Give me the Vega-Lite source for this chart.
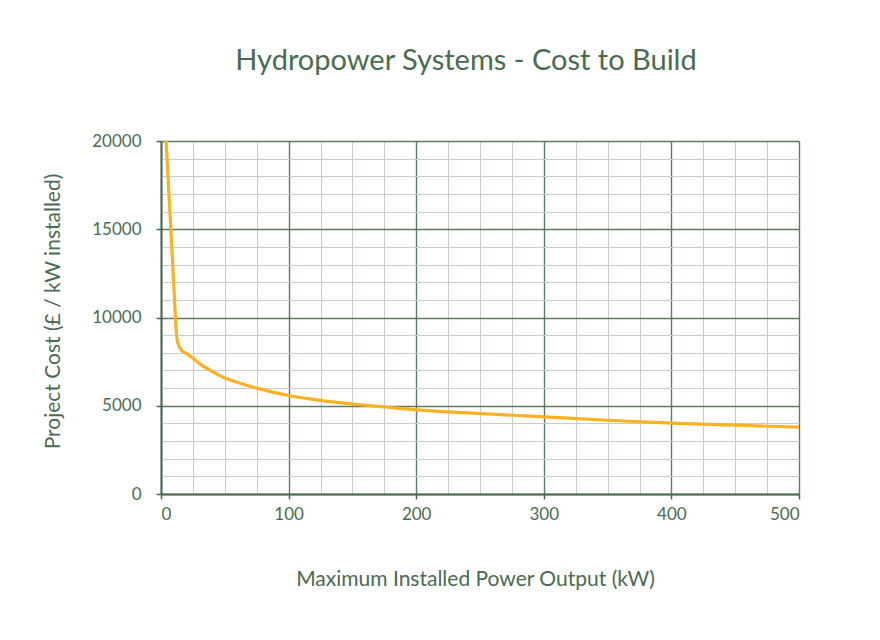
{
  "$schema": "https://vega.github.io/schema/vega-lite/v6.json",
  "width": 638,
  "height": 353,
  "autosize": {"type": "none"},
  "padding": {"left": 161, "top": 141, "right": 81, "bottom": 146},
  "background": "white",
  "title": {
    "text": "Hydropower Systems - Cost to Build",
    "font": "Lato",
    "fontSize": 29,
    "fontWeight": "normal",
    "color": "#4a6b52",
    "anchor": "middle",
    "dx": -14,
    "offset": 56
  },
  "config": {
    "view": {"stroke": null},
    "axis": {"labelFont": "Lato", "titleFont": "Lato", "labelColor": "#4a6b52", "titleColor": "#4a6b52"}
  },
  "data": {
    "values": [
      {"kw": 4, "cost": 20000},
      {"kw": 6, "cost": 17300},
      {"kw": 8, "cost": 14600},
      {"kw": 10, "cost": 11900},
      {"kw": 12, "cost": 9200},
      {"kw": 13, "cost": 8600},
      {"kw": 16, "cost": 8150},
      {"kw": 20, "cost": 7950},
      {"kw": 25, "cost": 7700},
      {"kw": 30, "cost": 7400},
      {"kw": 40, "cost": 6950},
      {"kw": 50, "cost": 6570},
      {"kw": 60, "cost": 6320},
      {"kw": 75, "cost": 6000},
      {"kw": 100, "cost": 5580},
      {"kw": 125, "cost": 5300},
      {"kw": 150, "cost": 5100},
      {"kw": 175, "cost": 4930},
      {"kw": 200, "cost": 4770},
      {"kw": 250, "cost": 4560},
      {"kw": 300, "cost": 4370},
      {"kw": 350, "cost": 4180},
      {"kw": 400, "cost": 4020},
      {"kw": 450, "cost": 3900},
      {"kw": 500, "cost": 3790}
    ]
  },
  "mark": {"type": "line", "color": "#fbb124", "strokeWidth": 3.2, "interpolate": "monotone", "clip": true},
  "encoding": {
    "x": {
      "field": "kw",
      "type": "quantitative",
      "scale": {"domain": [0, 500], "nice": false, "zero": false},
      "axis": {
        "title": "Maximum Installed Power Output (kW)",
        "titleFontSize": 21,
        "titleFontWeight": "normal",
        "titlePadding": 46,
        "titleX": 314,
        "labelFontSize": 17,
        "labelPadding": 7,
        "values": [0,25,50,75,100,125,150,175,200,225,250,275,300,325,350,375,400,425,450,475,500],
        "labelExpr": "datum.value % 100 === 0 ? datum.label : ''",
        "grid": true,
        "gridColor": {"condition": {"test": "datum.value % 100 === 0", "value": "#5c7a62"}, "value": "#c5cec7"},
        "gridWidth": {"condition": {"test": "datum.value % 100 === 0", "value": 1.4}, "value": 1},
        "gridOpacity": 1,
        "ticks": true,
        "tickColor": "#4a6b52",
        "tickSize": 5,
        "tickWidth": 1.5,
        "tickOpacity": {"condition": {"test": "datum.value % 100 === 0", "value": 1}, "value": 0},
        "domainColor": "#4a6b52",
        "domainWidth": 2
      }
    },
    "y": {
      "field": "cost",
      "type": "quantitative",
      "scale": {"domain": [0, 20000], "nice": false},
      "axis": {
        "title": "Project Cost (£ / kW installed)",
        "titleFontSize": 21,
        "titleFontWeight": "normal",
        "titlePadding": 28,
        "titleY": 170,
        "labelFontSize": 17,
        "labelPadding": 15,
        "format": "d",
        "values": [0,1000,2000,3000,4000,5000,6000,7000,8000,9000,10000,11000,12000,13000,14000,15000,16000,17000,18000,19000,20000],
        "labelExpr": "datum.value % 5000 === 0 ? datum.label : ''",
        "grid": true,
        "gridColor": {"condition": {"test": "datum.value % 5000 === 0", "value": "#5c7a62"}, "value": "#c5cec7"},
        "gridWidth": {"condition": {"test": "datum.value % 5000 === 0", "value": 1.4}, "value": 1},
        "gridOpacity": 1,
        "ticks": true,
        "tickColor": "#4a6b52",
        "tickSize": 5,
        "tickWidth": 1.5,
        "tickOpacity": {"condition": {"test": "datum.value % 5000 === 0", "value": 1}, "value": 0},
        "domainColor": "#4a6b52",
        "domainWidth": 2
      }
    }
  }
}
